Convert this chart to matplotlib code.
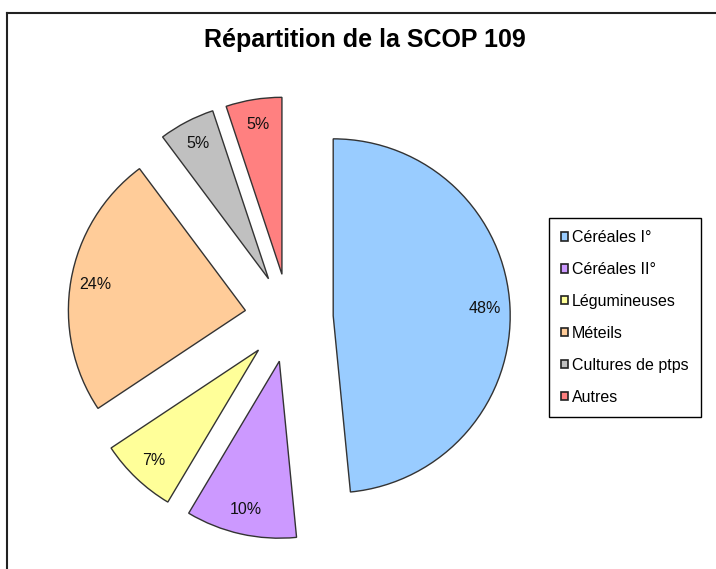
import matplotlib
matplotlib.use('Agg')
import matplotlib.pyplot as plt
from matplotlib.patches import Patch
from matplotlib.lines import Line2D

categories = ['Céréales I°', 'Céréales II°', 'Légumineuses', 'Méteils', 'Cultures de ptps', 'Autres']
shares = [48.4, 10.1, 7.1, 24.1, 5.1, 5.1]
colors = ['#99CCFF', '#CC99FF', '#FFFF99', '#FFCC99', '#C0C0C0', '#FF8080']
title = 'Répartition de la SCOP 109'

plt.rcParams['font.family'] = ['Liberation Sans', 'DejaVu Sans']

W, H = 716, 569
fig = plt.figure(figsize=(W / 100, H / 100), dpi=100)
ax = fig.add_axes([0, 0, 1, 1])

wedges, texts, autotexts = ax.pie(
    shares, colors=colors, startangle=90, counterclock=False,
    explode=[0.25] * len(shares), autopct='%.0f%%', pctdistance=0.86,
    wedgeprops=dict(edgecolor='#333333', linewidth=1.0),
    textprops=dict(fontsize=11.5, color='#111111'))

# pie centre and radius in pixels
cx, cy, r = 289, 318, 177
ax.set_aspect('auto')
ax.set_xlim(-cx / r, (W - cx) / r)
ax.set_ylim(-(H - cy) / r, cy / r)
ax.axis('off')

fig.text(365 / W, 1 - 40 / H, title, ha='center', va='center',
         fontsize=18, fontweight='bold')

handles = [Patch(facecolor=c, edgecolor='#222222', linewidth=1.2) for c in colors]
leg = fig.legend(handles, categories, loc='upper left',
                 bbox_to_anchor=(549 / W, 1 - 218 / H), borderaxespad=0,
                 fontsize=11.5, labelspacing=1.06, handlelength=0.45,
                 handleheight=0.45, handletextpad=0.25, borderpad=0.75,
                 fancybox=False, shadow=False, framealpha=1)
leg.get_frame().set_edgecolor('black')
leg.get_frame().set_linewidth(1.0)

# outer chart frame (only left and top are inside the image)
fig.add_artist(Line2D([6.5 / W, 6.5 / W], [0, 1 - 13 / H], transform=fig.transFigure,
                      color='#222222', linewidth=1.5))
fig.add_artist(Line2D([6.5 / W, 1], [1 - 13 / H, 1 - 13 / H], transform=fig.transFigure,
                      color='#222222', linewidth=1.5))

fig.savefig('out.png', dpi=100)
